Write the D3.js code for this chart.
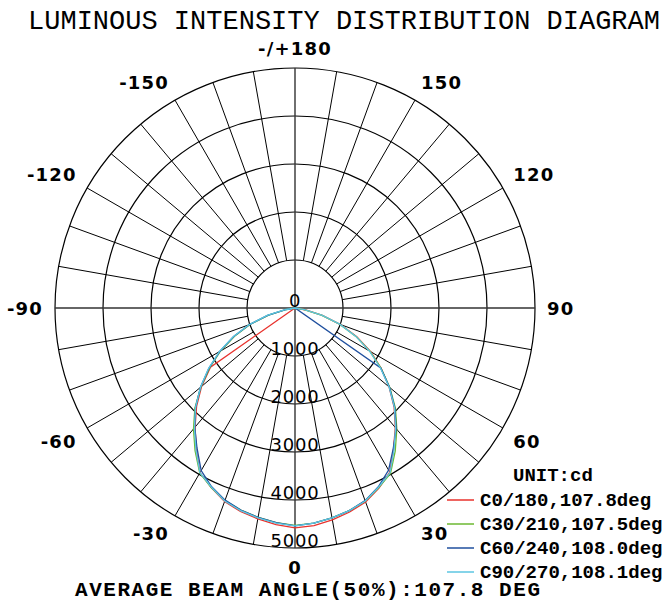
<!DOCTYPE html>
<html>
<head>
<meta charset="utf-8">
<script src="https://cdn.jsdelivr.net/npm/d3@7"></script>
<style>
  body { margin: 0; background: #fff; }
  svg { display: block; }
</style>
</head>
<body>
<div class="chart"></div>
<script>
// gamma angles, 0 = nadir, positive = right half
var gammas = [-90, -85, -80, -75, -70, -65, -60, -55, -50, -45, -40, -35, -30, -25, -20, -15, -10, -5,
              0, 5, 10, 15, 20, 25, 30, 35, 40, 45, 50, 55, 60, 65, 70, 75, 80, 85, 90];

// intensities in cd, one per gamma
var c0 = [0, 0, 0, 0, 0, 0, 0, 2150, 2540, 2900, 3240, 3580, 3960, 4130, 4290, 4390, 4460, 4530,
          4580, 4550, 4480, 4400, 4300, 4140, 3950, 3580, 3250, 2920, 2560, 2190, 1820, 1420, 1010, 590, 210, 0, 0];
var c30 = [0, 0, 180, 570, 990, 1390, 1790, 2170, 2560, 2950, 3290, 3630, 3970, 4130, 4270, 4360, 4430, 4490,
           4530, 4500, 4440, 4370, 4280, 4130, 3980, 3640, 3300, 2960, 2580, 2190, 1800, 1400, 990, 570, 190, 0, 0];
var c60 = [0, 0, 200, 590, 1010, 1410, 1810, 2190, 2570, 2930, 3250, 3560, 3910, 4110, 4260, 4360, 4430, 4490,
           4540, 4500, 4440, 4370, 4270, 4110, 3900, 3570, 3280, 2940, 2570, 2180, 0, 0, 0, 0, 0, 0, 0];
var c90 = [0, 0, 210, 600, 1020, 1420, 1820, 2200, 2570, 2930, 3260, 3600, 3960, 4120, 4280, 4370, 4440, 4500,
           4540, 4500, 4440, 4370, 4280, 4120, 3960, 3600, 3260, 2930, 2560, 2170, 1790, 1400, 1000, 590, 200, 0, 0];

var seriesNames = ['C0/180,107.8deg', 'C30/210,107.5deg', 'C60/240,108.0deg', 'C90/270,108.1deg'];
var seriesColors = ['#e8322d', '#6cb832', '#1f4f9e', '#5cc6e2'];
var seriesValues = [c0, c30, c60, c90];

var ringTicks = [1000, 2000, 3000, 4000, 5000];
var angleTicks = [0, 30, 60, 90, 120, 150, 180, -150, -120, -90, -60, -30];
var angleLabels = ['0', '30', '60', '90', '120', '150', '-/+180', '-150', '-120', '-90', '-60', '-30'];

var w = 668
  , h = 602
  , cx = 295
  , cy = 308
  , maxR = 240;

var svg = d3.select('.chart')
            .append('svg')
            .attr('width', w)
            .attr('height', h);

var r = d3.scaleLinear().domain([0, 5000]).range([0, maxR]);

// gamma in degrees -> d3 radial angle (0 at top, clockwise)
var toAngle = function (g) {
  return Math.PI - g * Math.PI / 180;
};

var g = svg.append('g').attr('transform', 'translate(' + cx + ',' + cy + ')');

// rings
g.selectAll('circle.ring')
  .data(ringTicks)
  .enter()
  .append('circle')
  .attr('class', 'ring')
  .attr('r', function (d) { return r(d); })
  .attr('fill', 'none')
  .attr('stroke', '#000')
  .attr('stroke-width', 1.2);

// spokes every 10 deg, starting at the first ring
var spokes = d3.range(0, 360, 10).filter(function (a) { return a % 90 !== 0; });
g.selectAll('line.spoke')
  .data(spokes)
  .enter()
  .append('line')
  .attr('class', 'spoke')
  .attr('x1', function (a) { return r(1000) * Math.sin(a * Math.PI / 180); })
  .attr('y1', function (a) { return r(1000) * Math.cos(a * Math.PI / 180); })
  .attr('x2', function (a) { return r(5000) * Math.sin(a * Math.PI / 180); })
  .attr('y2', function (a) { return r(5000) * Math.cos(a * Math.PI / 180); })
  .attr('stroke', '#000')
  .attr('stroke-width', 1);

// main axes through the centre
g.append('line').attr('x1', -r(5000)).attr('x2', r(5000)).attr('y1', 0).attr('y2', 0)
  .attr('stroke', '#333').attr('stroke-width', 1.4);
g.append('line').attr('x1', 0).attr('x2', 0).attr('y1', -r(5000)).attr('y2', r(5000))
  .attr('stroke', '#333').attr('stroke-width', 1.4);

// ring values down the vertical axis
g.selectAll('text.ringLabel')
  .data([0].concat(ringTicks))
  .enter()
  .append('text')
  .attr('class', 'ringLabel')
  .attr('x', 0)
  .attr('y', function (d) { return r(d) - 1; })
  .attr('text-anchor', 'middle')
  .attr('font-family', 'DejaVu Sans')
  .attr('font-size', 18)
  .attr('letter-spacing', 0.8)
  .attr('fill', '#000')
  .text(function (d) { return d; });

// the curves
var line = d3.lineRadial()
  .angle(function (d) { return toAngle(d[0]); })
  .radius(function (d) { return r(d[1]); })
  .curve(d3.curveLinearClosed);

seriesValues.forEach(function (vals, i) {
  var pts = gammas.map(function (gm, j) { return [gm, vals[j]]; });
  g.append('path')
    .attr('d', line(pts))
    .attr('fill', 'none')
    .attr('stroke', seriesColors[i])
    .attr('stroke-width', 1.3);
});

// angle labels round the outside: edge sits on a circle just past the grid
angleTicks.forEach(function (a, i) {
  var rad = a * Math.PI / 180
    , s = Math.sin(rad)
    , c = Math.cos(rad)
    , rr = 252
    , anchor = Math.abs(s) < 0.01 ? 'middle' : (s > 0 ? 'start' : 'end')
    , dy = Math.abs(c) < 0.01 ? 0 : (c > 0 ? 7.5 : -7.5);

  g.append('text')
    .attr('x', rr * s)
    .attr('y', rr * c + dy + 6.5)
    .attr('font-family', 'DejaVu Sans')
    .attr('font-weight', 'bold')
    .attr('font-size', 18)
    .attr('letter-spacing', 1.2)
    .attr('text-anchor', anchor)
    .attr('fill', '#000')
    .text(angleLabels[i]);
});

// title
svg.append('text')
  .attr('x', 344)
  .attr('y', 29)
  .attr('text-anchor', 'middle')
  .attr('font-family', 'Liberation Mono')
  .attr('font-size', 27)
  .attr('fill', '#000')
  .text('LUMINOUS INTENSITY DISTRIBUTION DIAGRAM');

// legend
var legend = svg.append('g').attr('font-family', 'Liberation Mono').attr('font-weight', 'bold').attr('font-size', 19);

legend.append('text').attr('x', 513).attr('y', 481).text('UNIT:cd');

seriesNames.forEach(function (name, i) {
  var y = 500 + i * 24;
  legend.append('line')
    .attr('x1', 447).attr('x2', 474).attr('y1', y).attr('y2', y)
    .attr('stroke', seriesColors[i]).attr('stroke-width', 1.5);
  legend.append('text').attr('x', 480).attr('y', y + 6).text(name);
});

svg.append('text')
  .attr('x', 75)
  .attr('y', 596)
  .attr('font-family', 'Liberation Mono')
  .attr('font-weight', 'bold')
  .attr('font-size', 21)
  .attr('textLength', 465)
  .attr('lengthAdjust', 'spacing')
  .attr('fill', '#000')
  .text('AVERAGE BEAM ANGLE(50%):107.8 DEG');
</script>
</body>
</html>
